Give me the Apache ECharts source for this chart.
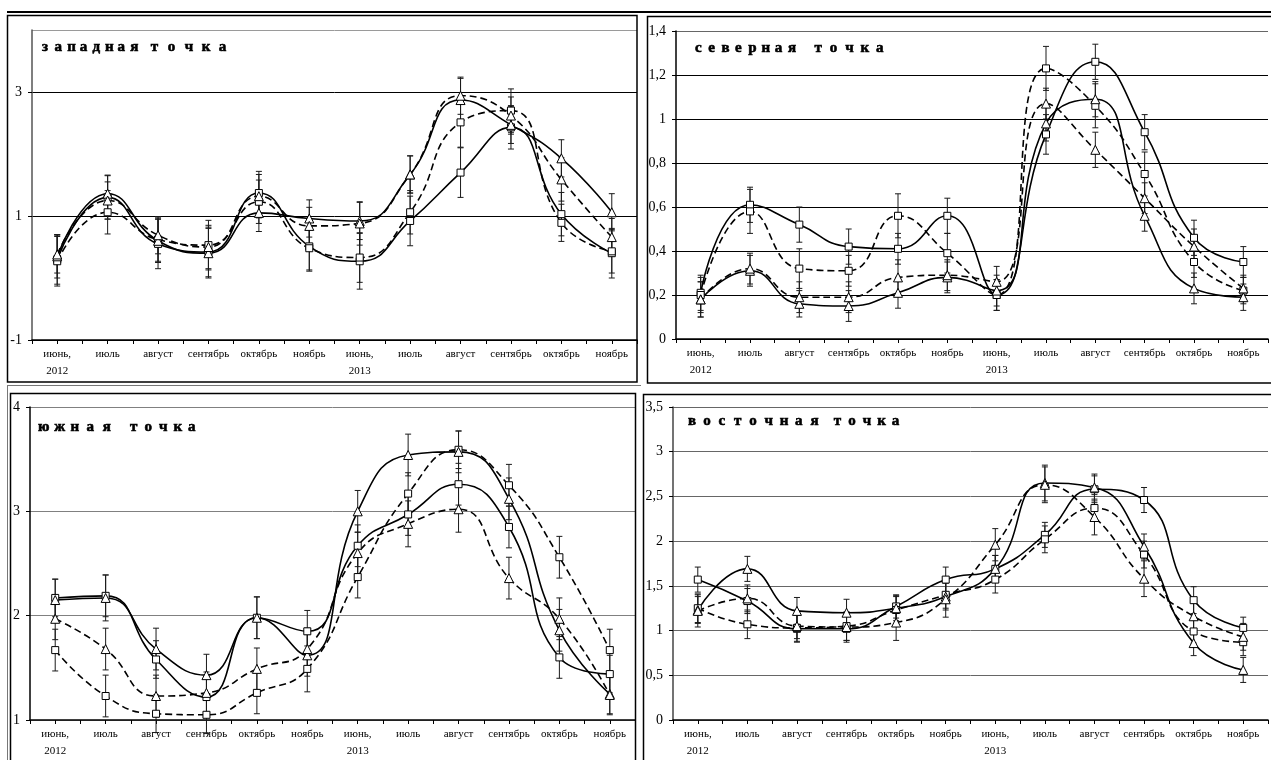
<!DOCTYPE html>
<html><head><meta charset="utf-8">
<script src="https://cdn.jsdelivr.net/npm/echarts@6/dist/echarts.min.js"></script>
<style>html,body{margin:0;padding:0;background:#fff}#c{width:1271px;height:760px}</style>
</head><body><div id="c"></div>
<script>
// ---- categories ----
const months = ['июнь,\n2012', 'июль', 'август', 'сентябрь', 'октябрь', 'ноябрь',
                'июнь,\n2013', 'июль', 'август', 'сентябрь', 'октябрь', 'ноябрь'];

// ---- западная точка (west) ----
const w_sq_solid = [0.30, 1.30, 0.55, 0.42, 1.37, 0.51, 0.27, 0.92, 1.70, 2.43, 1.03, 0.40];
const w_sq_dash  = [0.27, 1.06, 0.62, 0.53, 1.23, 0.48, 0.33, 1.06, 2.51, 2.70, 0.89, 0.43];
const w_tr_solid = [0.35, 1.36, 0.60, 0.40, 1.05, 0.96, 0.92, 1.67, 2.87, 2.47, 1.93, 1.06];
const w_tr_dash  = [0.38, 1.25, 0.69, 0.50, 1.32, 0.84, 0.88, 1.67, 2.94, 2.62, 1.59, 0.66];
const w_sq_solid_err = [0.40, 0.35, 0.40, 0.40, 0.35, 0.40, 0.45, 0.40, 0.40, 0.35, 0.35, 0.40];
const w_sq_dash_err  = [0.40, 0.35, 0.35, 0.40, 0.35, 0.35, 0.40, 0.35, 0.40, 0.35, 0.30, 0.35];
const w_tr_solid_err = [0.35, 0.30, 0.35, 0.40, 0.30, 0.30, 0.30, 0.30, 0.35, 0.30, 0.30, 0.30];
const w_tr_dash_err  = [0.30, 0.30, 0.30, 0.35, 0.35, 0.30, 0.35, 0.30, 0.30, 0.30, 0.35, 0.30];

// ---- северная точка (north) ----
const n_sq_solid = [0.21, 0.61, 0.52, 0.42, 0.41, 0.56, 0.20, 0.93, 1.26, 0.94, 0.46, 0.35];
const n_sq_dash  = [0.20, 0.58, 0.32, 0.31, 0.56, 0.39, 0.20, 1.23, 1.06, 0.75, 0.35, 0.22];
const n_tr_solid = [0.18, 0.31, 0.16, 0.15, 0.21, 0.28, 0.22, 0.98, 1.09, 0.56, 0.23, 0.19];
const n_tr_dash  = [0.18, 0.32, 0.19, 0.19, 0.28, 0.29, 0.26, 1.07, 0.86, 0.64, 0.42, 0.23];
const n_sq_solid_err = [0.08, 0.08, 0.08, 0.08, 0.07, 0.08, 0.07, 0.09, 0.08, 0.08, 0.08, 0.07];
const n_sq_dash_err  = [0.08, 0.10, 0.09, 0.07, 0.10, 0.09, 0.07, 0.10, 0.10, 0.10, 0.07, 0.06];
const n_tr_solid_err = [0.08, 0.07, 0.06, 0.07, 0.07, 0.07, 0.07, 0.08, 0.08, 0.07, 0.07, 0.06];
const n_tr_dash_err  = [0.08, 0.07, 0.07, 0.07, 0.08, 0.07, 0.07, 0.07, 0.08, 0.07, 0.08, 0.06];

// ---- южная точка (south) ----
const s_sq_solid = [2.17, 2.19, 1.58, 1.22, 1.98, 1.85, 2.67, 2.97, 3.26, 2.85, 1.60, 1.44];
const s_sq_dash  = [1.67, 1.23, 1.06, 1.05, 1.26, 1.49, 2.37, 3.17, 3.59, 3.25, 2.56, 1.67];
const s_tr_solid = [2.15, 2.17, 1.68, 1.43, 1.98, 1.62, 3.00, 3.54, 3.57, 3.12, 1.86, 1.25];
const s_tr_dash  = [1.97, 1.68, 1.23, 1.26, 1.49, 1.68, 2.60, 2.88, 3.02, 2.36, 1.97, 1.24];
const s_sq_solid_err = [0.18, 0.20, 0.18, 0.18, 0.20, 0.20, 0.20, 0.20, 0.20, 0.20, 0.20, 0.18];
const s_sq_dash_err  = [0.20, 0.20, 0.18, 0.18, 0.20, 0.22, 0.20, 0.20, 0.18, 0.20, 0.20, 0.20];
const s_tr_solid_err = [0.20, 0.22, 0.20, 0.20, 0.20, 0.20, 0.20, 0.20, 0.20, 0.20, 0.20, 0.20];
const s_tr_dash_err  = [0.20, 0.20, 0.20, 0.20, 0.20, 0.20, 0.20, 0.22, 0.22, 0.20, 0.20, 0.18];

// ---- восточная точка (east) ----
const e_sq_solid = [1.57, 1.33, 1.02, 1.02, 1.27, 1.57, 1.69, 2.07, 2.58, 2.46, 1.34, 1.03];
const e_sq_dash  = [1.25, 1.07, 1.03, 1.05, 1.23, 1.40, 1.57, 2.02, 2.37, 1.85, 0.99, 0.87];
const e_tr_solid = [1.23, 1.69, 1.22, 1.20, 1.25, 1.38, 1.69, 2.65, 2.60, 1.94, 0.86, 0.56];
const e_tr_dash  = [1.22, 1.36, 1.05, 1.04, 1.09, 1.35, 1.96, 2.63, 2.27, 1.58, 1.16, 0.93];
const e_sq_solid_err = [0.14, 0.14, 0.15, 0.15, 0.13, 0.14, 0.15, 0.14, 0.15, 0.14, 0.15, 0.12];
const e_sq_dash_err  = [0.16, 0.16, 0.15, 0.16, 0.15, 0.15, 0.15, 0.15, 0.15, 0.15, 0.13, 0.15];
const e_tr_solid_err = [0.15, 0.14, 0.15, 0.15, 0.14, 0.15, 0.15, 0.20, 0.15, 0.14, 0.14, 0.14];
const e_tr_dash_err  = [0.18, 0.15, 0.14, 0.15, 0.20, 0.20, 0.18, 0.20, 0.20, 0.20, 0.15, 0.15];

const titles = ['западная точка', 'северная точка', 'южная точка', 'восточная точка'];

// title letter pitch (px) for each word, and gap between words
const panels = [
  { title: titles[0], tx: 42, ty: 40, pitch: [12.6, 17], gap: 8,
    grid: {left: 32, top: 30, width: 605, height: 310},
    y: {min: -1, max: 4, interval: 2, hideMax: true},
    split: ['#000', '#000', '#000', '#9a9a9a'], axisColor: '#555',
    sets: [[w_sq_solid, w_sq_solid_err, 'rect', 'solid'], [w_sq_dash, w_sq_dash_err, 'rect', 'dashed'],
           [w_tr_solid, w_tr_solid_err, 'triangle', 'solid'], [w_tr_dash, w_tr_dash_err, 'triangle', 'dashed']] },
  { title: titles[1], tx: 695, ty: 41, pitch: [13.3, 15.4], gap: 13,
    grid: {left: 676, top: 31, width: 605, height: 308},
    y: {min: 0, max: 1.4, interval: 0.2, hideMax: false},
    split: ['#000', '#000', '#000', '#000', '#000', '#000', '#000', '#666'], axisColor: '#000',
    sets: [[n_sq_solid, n_sq_solid_err, 'rect', 'solid'], [n_sq_dash, n_sq_dash_err, 'rect', 'dashed'],
           [n_tr_solid, n_tr_solid_err, 'triangle', 'solid'], [n_tr_dash, n_tr_dash_err, 'triangle', 'dashed']] },
  { title: titles[2], tx: 38, ty: 420, pitch: [16.2, 14.5], gap: 11,
    grid: {left: 30, top: 407, width: 605, height: 315},
    y: {min: 1, max: 4, interval: 1, hideMax: false},
    split: ['#808080'], axisColor: '#000',
    sets: [[s_sq_solid, s_sq_solid_err, 'rect', 'solid'], [s_sq_dash, s_sq_dash_err, 'rect', 'dashed'],
           [s_tr_solid, s_tr_solid_err, 'triangle', 'solid'], [s_tr_dash, s_tr_dash_err, 'triangle', 'dashed']] },
  { title: titles[3], tx: 688, ty: 414, pitch: [15.3, 14.5], gap: 8,
    grid: {left: 673, top: 407, width: 605, height: 315},
    y: {min: 0, max: 3.5, interval: 0.5, hideMax: false},
    split: ['#666'], axisColor: '#444',
    sets: [[e_sq_solid, e_sq_solid_err, 'rect', 'solid'], [e_sq_dash, e_sq_dash_err, 'rect', 'dashed'],
           [e_tr_solid, e_tr_solid_err, 'triangle', 'solid'], [e_tr_dash, e_tr_dash_err, 'triangle', 'dashed']] }
];

const tFont = {fontFamily: 'Liberation Serif', fontWeight: 'bold', fontSize: 15, color: '#000',
  textBorderColor: '#000', textBorderWidth: 0.6};

function spacedTitle(p) {
  const w = p.title.split(' ');
  const text = w[0].split('').map(c => '{a|' + c + '}').join('') + '{g| }' +
               w[1].split('').map(c => '{b|' + c + '}').join('');
  const rich = {
    a: Object.assign({width: p.pitch[0], align: 'left'}, tFont),
    b: Object.assign({width: p.pitch[1], align: 'left'}, tFont),
    g: Object.assign({width: p.gap, align: 'left'}, tFont)
  };
  return {text, rich};
}

function renderErr(params, api) {
  const x = api.value(0), v = api.value(1), e = api.value(2);
  const top = api.coord([x, v + e]), bot = api.coord([x, v - e]);
  const c = 3;
  const st = {stroke: '#1a1a1a', lineWidth: 1};
  return {type: 'group', children: [
    {type: 'line', shape: {x1: top[0], y1: top[1], x2: bot[0], y2: bot[1]}, style: st},
    {type: 'line', shape: {x1: top[0] - c, y1: top[1], x2: top[0] + c, y2: top[1]}, style: st},
    {type: 'line', shape: {x1: bot[0] - c, y1: bot[1], x2: bot[0] + c, y2: bot[1]}, style: st}
  ]};
}

const fmtY = v => String(Math.round(v * 10) / 10).replace('.', ',');

const grids = [], xAxes = [], yAxes = [], series = [], titleOpts = [];
panels.forEach((p, i) => {
  grids.push(Object.assign({containLabel: false}, p.grid));
  const t = spacedTitle(p);
  titleOpts.push({text: t.text, left: p.tx, top: p.ty, padding: 0,
    textStyle: Object.assign({rich: t.rich}, tFont)});
  xAxes.push({type: 'value', gridIndex: i, min: -0.5, max: 11.5, interval: 0.5,
    axisLine: {show: true, onZero: false, lineStyle: {color: '#000', width: 1.5}},
    axisTick: {show: true, length: 4, lineStyle: {color: '#000', width: 1}},
    splitLine: {show: false},
    axisLabel: {margin: 6, fontFamily: 'Liberation Serif', fontSize: 11, color: '#000', lineHeight: 17,
      showMinLabel: true, showMaxLabel: true,
      formatter: v => (Math.abs(v - Math.round(v)) < 1e-6 && v >= 0 && v <= 11) ? months[Math.round(v)] : ''}
  });
  yAxes.push({type: 'value', gridIndex: i, min: p.y.min, max: p.y.max, interval: p.y.interval,
    axisLine: {show: true, onZero: false, lineStyle: {color: p.axisColor, width: 1.5}},
    axisTick: {show: true, length: 4, lineStyle: {color: '#000', width: 1}},
    splitLine: {show: true, lineStyle: {color: p.split, width: 1}},
    axisLabel: {margin: 10, fontFamily: 'Liberation Serif', fontSize: 14, color: '#000',
      showMaxLabel: !p.y.hideMax, formatter: fmtY}
  });
  p.sets.forEach(s => {
    const [vals, errs, sym, dash] = s;
    series.push({type: 'custom', xAxisIndex: i, yAxisIndex: i, renderItem: renderErr,
      encode: {x: 0, y: 1}, z: 2, silent: true,
      data: vals.map((v, k) => [k, v, errs[k]])});
    series.push({type: 'line', xAxisIndex: i, yAxisIndex: i, smooth: 0.5, z: 3,
      symbol: sym, symbolSize: sym === 'rect' ? 7 : 9, showAllSymbol: true,
      lineStyle: {color: '#000', width: 1.6, type: dash === 'dashed' ? [7, 4] : 'solid'},
      itemStyle: {color: '#fff', borderColor: '#000', borderWidth: 1},
      data: vals.map((v, k) => [k, v])});
  });
});

const box = (x, y, w, h, lw, col) => ({type: 'rect', silent: true, z: 100,
  shape: {x: x, y: y, width: w, height: h}, style: {fill: null, stroke: col || '#000', lineWidth: lw}});

const chart = echarts.init(document.getElementById('c'));
chart.setOption({
  animation: false,
  backgroundColor: '#fff',
  title: titleOpts,
  grid: grids, xAxis: xAxes, yAxis: yAxes, series: series,
  graphic: [
    {type: 'rect', silent: true, z: 100, shape: {x: 7, y: 11, width: 1270, height: 2}, style: {fill: '#000'}},
    box(7.5, 15.5, 629.5, 366.5, 1.5),
    box(647.5, 16.5, 630, 366.5, 1.5),
    {type: 'line', silent: true, z: 100, shape: {x1: 7, y1: 385.5, x2: 641, y2: 385.5}, style: {stroke: '#777', lineWidth: 1}},
    {type: 'line', silent: true, z: 100, shape: {x1: 7.5, y1: 385, x2: 7.5, y2: 760}, style: {stroke: '#777', lineWidth: 1}},
    box(10.5, 393.5, 625, 380, 1.5),
    box(643.5, 394.5, 640, 380, 1.5)
  ]
});
</script>
</body></html>
